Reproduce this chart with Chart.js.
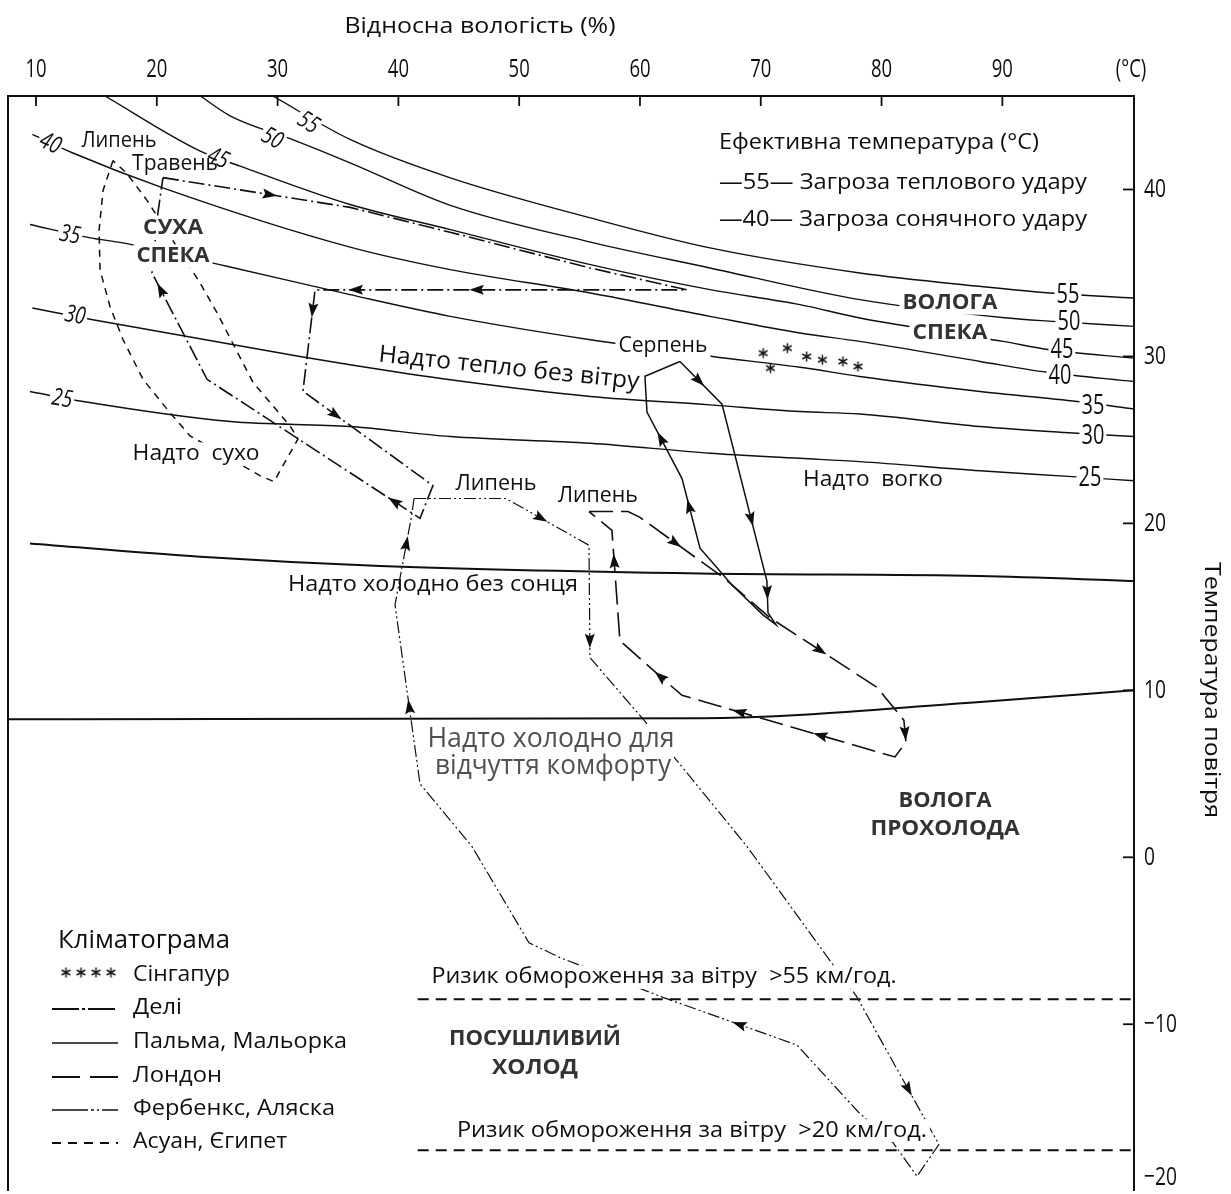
<!DOCTYPE html>
<html lang="uk">
<head>
<meta charset="utf-8">
<title>Біокліматична діаграма</title>
<script src="https://cdn.jsdelivr.net/npm/chart.js@4.4.1/dist/chart.umd.min.js"></script>
<style>
  html, body { margin: 0; padding: 0; background: #fff; overflow: hidden; }
  #wrap { width: 1231px; height: 1194px; position: relative; background: #fff; }
</style>
</head>
<body>
<div id="wrap"><canvas id="c" width="1231" height="1194"></canvas></div>
<script>
// ---- axis ticks ----
const humidityTicks = [10, 20, 30, 40, 50, 60, 70, 80, 90];
const temperatureTicks = [40, 30, 20, 10, 0, -10, -20];

// ---- effective temperature curves: relative humidity (%) / air temperature (°C) ----
const et55Hum  = [29.6, 36.0, 44.3, 55.9, 65.8, 78.2, 88.1, 93.9, 100.9];
const et55Temp = [45.6, 43.0, 40.7, 38.3, 36.5, 35.0, 34.2, 33.8, 33.5];
const et50Hum  = [23.6, 26.1, 31.2, 36.0, 44.3, 55.9, 65.8, 78.2, 90.4, 94.2, 100.9];
const et50Temp = [45.6, 44.4, 43.0, 41.6, 39.05, 36.85, 35.3, 33.4, 32.3, 32.1, 31.8];
const et45Hum  = [15.7, 23.6, 26.9, 36.0, 44.3, 55.9, 65.8, 73.25, 78.2, 90.05, 93.9, 100.9];
const et45Temp = [45.6, 42.3, 41.4, 39.1, 37.6, 35.5, 34.0, 33.1, 32.3, 30.9, 30.4, 29.9];
const et40Hum  = [9.7, 13.0, 20.5, 36.0, 44.3, 55.9, 65.8, 73.25, 78.2, 88.15, 93.7, 100.9];
const et40Temp = [43.3, 42.2, 40.1, 36.55, 35.2, 33.8, 32.4, 31.4, 30.9, 29.7, 29.05, 28.5];
const et35Hum  = [9.5, 14.5, 17.2, 25.8, 36.0, 44.3, 55.9, 66.0, 73.25, 78.2, 88.15, 96.2, 100.9];
const et35Temp = [37.9, 37.1, 36.8, 35.4, 33.7, 32.4, 31.0, 30.0, 29.35, 28.8, 27.9, 27.3, 26.85];
const et30Hum  = [9.7, 14.7, 31.85, 36.0, 44.3, 55.9, 65.8, 73.25, 78.2, 88.15, 96.2, 100.9];
const et30Temp = [32.9, 32.2, 30.0, 29.5, 28.6, 27.6, 27.1, 26.7, 26.55, 25.8, 25.4, 25.2];
const et25Hum  = [9.5, 13.9, 26.1, 36.0, 44.3, 55.9, 65.8, 73.25, 78.2, 88.15, 95.8, 100.9];
const et25Temp = [27.9, 27.3, 26.1, 25.8, 25.2, 24.8, 24.2, 23.9, 23.7, 23.15, 22.8, 22.55];

// ---- comfort boundaries ----
const sunLimitHum      = [9.5, 23.6, 38.5, 65.0, 88.15, 100.9];
const sunLimitTemp     = [18.8, 18.0, 17.45, 17.0, 16.85, 16.55];
const comfortLimitHum  = [7.68, 65.0, 88.15, 100.9];
const comfortLimitTemp = [8.27, 8.33, 9.3, 10.0];
const frostHum         = [41.6, 100.9];
const frost55Temp      = [-8.5, -8.5];
const frost20Temp      = [-17.55, -17.55];

// ---- climatograms (monthly path, closed loops) ----
const singaporeHum  = [70.2, 72.2, 70.8, 73.8, 75.1, 76.8, 78.05];
const singaporeTemp = [30.2, 30.5, 29.3, 30.0, 29.8, 29.7, 29.4];

const delhiHum  = [20.51, 36.0, 44.27, 55.86, 63.89, 33.1, 32.1, 42.86, 41.79, 24.16, 19.6, 20.1, 20.51];
const delhiTemp = [40.71, 38.93, 37.44, 35.3, 33.99, 33.99, 27.92, 22.26, 20.3, 28.63, 35.0, 38.65, 40.71];

const palmaHum  = [63.31, 66.79, 70.51, 70.6, 71.26, 70.18, 67.62, 64.97, 63.48, 60.58, 60.41, 63.31];
const palmaTemp = [29.7, 27.14, 16.55, 14.64, 13.93, 14.52, 16.31, 18.51, 22.68, 26.67, 28.81, 29.7];

const londonHum  = [55.78, 59.01, 60.0, 66.95, 70.76, 79.62, 81.85, 82.02, 81.11, 63.48, 61.49, 58.34, 57.68, 55.78];
const londonTemp = [20.71, 20.71, 20.36, 16.73, 14.35, 10.18, 8.21, 6.9, 6.01, 9.7, 10.95, 12.98, 19.58, 20.71];

const fairbanksHum  = [41.29, 48.91, 55.78, 55.86, 60.33, 68.86, 75.73, 77.88, 84.75, 82.93, 80.94, 78.05, 73.0,
                       61.9, 53.38, 50.81, 46.09, 41.79, 39.72, 41.13, 41.29];
const fairbanksTemp = [21.49, 21.49, 18.69, 11.96, 8.21, 0.65, -6.19, -8.27, -17.2, -19.11, -17.08, -15.24, -11.25,
                       -8.39, -6.01, -5.12, 0.65, 4.4, 15.12, 20.6, 21.49];

const aswanHum  = [16.37, 15.55, 15.22, 15.3, 16.13, 17.2, 18.86, 20.84, 22.75, 28.54, 29.7, 31.69, 31.03, 27.96,
                   24.98, 23.58, 19.19, 17.53, 16.37];
const aswanTemp = [41.73, 39.94, 37.56, 35.18, 32.98, 31.01, 28.63, 26.85, 25.24, 22.86, 22.5, 25.06, 25.83, 28.45,
                   32.62, 34.4, 39.35, 40.95, 41.73];

// direction arrows: [segment index, position along the segment]
const arrowMarks = {
  'Делі':            [[0, 0.57], [4, 0.565], [4, 0.89], [5, 0.2], [6, 0.25], [8, 0.12], [9, 0.84]],
  'Пальма, Мальорка': [[0, 0.45], [1, 0.65], [2, 0.35], [7, 0.6], [8, 0.6]],
  'Лондон':          [[2, 0.42], [4, 0.47], [6, 0.6], [8, 0.35], [8, 0.73], [9, 0.9], [11, 0.72]],
  'Фербенкс, Аляска': [[1, 0.42], [2, 0.85], [7, 0.63], [12, 0.43], [17, 0.43], [18, 0.67]]
};

const FONT = "'Open Sans', 'Noto Sans', 'DejaVu Sans', sans-serif";
const INK = '#0f0f0f';

function series(label, hum, temp, style) {
  return Object.assign({
    label,
    data: hum.map((h, i) => ({ x: h, y: temp[i] })),
    showLine: true,
    pointRadius: 0,
    pointHoverRadius: 0,
    borderColor: INK,
    backgroundColor: INK,
    borderWidth: 1.5,
    fill: false
  }, style);
}

// small asterisk used for the Singapore months
const asterisk = document.createElement('canvas');
asterisk.width = 13; asterisk.height = 13;
(function () {
  const g = asterisk.getContext('2d');
  g.strokeStyle = '#1a1a1a'; g.lineWidth = 1.5; g.beginPath();
  for (let k = 0; k < 3; k++) {
    const a = Math.PI / 2 + k * Math.PI / 3;
    g.moveTo(6.5 + 5 * Math.cos(a), 6.5 + 5 * Math.sin(a));
    g.lineTo(6.5 - 5 * Math.cos(a), 6.5 - 5 * Math.sin(a));
  }
  g.stroke();
})();

const smooth = { cubicInterpolationMode: 'monotone', borderWidth: 1.4 };

const datasets = [
  series('ET55', et55Hum, et55Temp, smooth),
  series('ET50', et50Hum, et50Temp, smooth),
  series('ET45', et45Hum, et45Temp, smooth),
  series('ET40', et40Hum, et40Temp, smooth),
  series('ET35', et35Hum, et35Temp, smooth),
  series('ET30', et30Hum, et30Temp, smooth),
  series('ET25', et25Hum, et25Temp, smooth),
  series('sun', sunLimitHum, sunLimitTemp, { cubicInterpolationMode: 'monotone', borderWidth: 2 }),
  series('comfort', comfortLimitHum, comfortLimitTemp, { cubicInterpolationMode: 'monotone', borderWidth: 2 }),
  series('frost55', frostHum, frost55Temp, { borderWidth: 2, borderDash: [11, 7] }),
  series('frost20', frostHum, frost20Temp, { borderWidth: 2, borderDash: [11, 7] }),
  series('Делі', delhiHum, delhiTemp, { borderWidth: 1.6, borderDash: [16, 4, 2, 4] }),
  series('Пальма, Мальорка', palmaHum, palmaTemp, { borderWidth: 1.5 }),
  series('Лондон', londonHum, londonTemp, { borderWidth: 1.6, borderDash: [24, 8] }),
  series('Фербенкс, Аляска', fairbanksHum, fairbanksTemp, { borderWidth: 1.2, borderDash: [12, 3, 2, 3, 2, 3] }),
  series('Асуан, Єгипет', aswanHum, aswanTemp, { borderWidth: 1.5, borderDash: [7, 6] }),
  {
    label: 'Сінгапур',
    data: singaporeHum.map((h, i) => ({ x: h, y: singaporeTemp[i] })),
    showLine: false, pointStyle: asterisk, pointRadius: 6, pointHoverRadius: 6
  }
];

// curve value labels (humidity / temperature position)
const curveLabels = [
  { t: '40', h: 11.16, T: 42.74, rot: 25, italic: true },
  { t: '45', h: 25.07, T: 41.85, rot: 24, italic: true },
  { t: '50', h: 29.54, T: 43.04, rot: 28, italic: true },
  { t: '55', h: 32.52, T: 43.99, rot: 32, italic: true },
  { t: '35', h: 12.81, T: 37.26, rot: 10, italic: true },
  { t: '30', h: 13.23, T: 32.44, rot: 10, italic: true },
  { t: '25', h: 12.15, T: 27.44, rot: 9, italic: true },
  { t: '55', h: 95.43, T: 33.69 },
  { t: '50', h: 95.51, T: 32.02 },
  { t: '45', h: 94.93, T: 30.36 },
  { t: '40', h: 94.77, T: 28.81 },
  { t: '35', h: 97.5,  T: 27.02 },
  { t: '30', h: 97.5,  T: 25.24 },
  { t: '25', h: 97.25, T: 22.68 }
];

const BOLD = { weight: 700, color: '#333', size: 22 };
const notes = [
  Object.assign({ t: 'СУХА', h: 21.34, T: 37.68, w: 60, knock: true }, BOLD),
  Object.assign({ t: 'СПЕКА', h: 21.34, T: 36.01, w: 73, knock: true }, BOLD),
  Object.assign({ t: 'ВОЛОГА', h: 85.66, T: 33.21, w: 95, knock: true }, BOLD),
  Object.assign({ t: 'СПЕКА', h: 85.66, T: 31.43, w: 75, knock: true }, BOLD),
  Object.assign({ t: 'ВОЛОГА', h: 85.25, T: 3.39, w: 93 }, BOLD),
  Object.assign({ t: 'ПРОХОЛОДА', h: 85.25, T: 1.73, w: 149 }, BOLD),
  Object.assign({ t: 'ПОСУШЛИВИЙ', h: 51.31, T: -10.89, w: 172 }, BOLD),
  Object.assign({ t: 'ХОЛОД', h: 51.31, T: -12.62, w: 86 }, BOLD),
  { t: 'Надто тепло без вітру', h: 49.16, T: 29.29, w: 262, rot: 6, size: 24 },
  { t: 'Серпень', h: 61.9, T: 30.6, w: 89, knock: true },
  { t: 'Надто  сухо', h: 23.25, T: 24.17, w: 127, knock: true },
  { t: 'Надто  вогко', h: 79.29, T: 22.62, w: 140 },
  { t: 'Надто холодно без сонця', h: 42.86, T: 16.31, w: 290 },
  { t: 'Липень', h: 48.08, T: 22.38, w: 81 },
  { t: 'Липень', h: 56.52, T: 21.61, w: 80 },
  { t: 'Липень', h: 16.87, T: 42.92, w: 75 },
  { t: 'Травень', h: 21.51, T: 41.55, w: 86 },
  { t: 'Надто холодно для', h: 52.63, T: 7.08, w: 247, size: 27, color: '#505050', knock: true },
  { t: 'відчуття комфорту', h: 52.8, T: 5.42, w: 236, size: 27, color: '#505050', knock: true },
  { t: 'Ризик обмороження за вітру  >55 км/год.', h: 61.99, T: -7.2, w: 465, knock: true },
  { t: 'Ризик обмороження за вітру  >20 км/год.', h: 64.3, T: -16.37, w: 470, knock: true }
];

function txt(ctx, s, x, y, o = {}) {
  const size = o.size || 21;
  ctx.save();
  ctx.font = `${o.italic ? 'italic ' : ''}${o.weight || 400} ${size}px ${o.family || FONT}`;
  const w = ctx.measureText(s).width;
  const sx = o.w ? o.w / w : (o.sx || 1);
  ctx.translate(x, y);
  if (o.rot) ctx.rotate(o.rot * Math.PI / 180);
  ctx.scale(sx, 1);
  const x0 = o.align === 'left' ? 0 : (o.align === 'right' ? -w : -w / 2);
  if (o.knock) {
    const p = o.pad == null ? 3 : o.pad;
    ctx.fillStyle = '#fff';
    ctx.fillRect(x0 - p / sx, -size * 0.4 - p, w + 2 * p / sx, size * 0.8 + 2 * p);
  }
  ctx.fillStyle = o.color || INK;
  ctx.textAlign = 'left';
  ctx.textBaseline = 'middle';
  ctx.fillText(s, x0, 0);
  ctx.restore();
}

function arrowHead(ctx, x, y, ang) {
  ctx.save();
  ctx.translate(x, y);
  ctx.rotate(ang);
  ctx.beginPath();
  ctx.moveTo(7.5, 0);
  ctx.lineTo(-7, 5);
  ctx.lineTo(-4.5, 0);
  ctx.lineTo(-7, -5);
  ctx.closePath();
  ctx.fillStyle = INK;
  ctx.fill();
  ctx.restore();
}

function sample(ctx, y, dash, width) {
  ctx.save();
  ctx.strokeStyle = INK;
  ctx.lineWidth = width;
  ctx.setLineDash(dash);
  ctx.beginPath();
  ctx.moveTo(52, y);
  ctx.lineTo(118, y);
  ctx.stroke();
  ctx.restore();
}

const decor = {
  id: 'decor',
  afterDatasetsDraw(chart) {
    const ctx = chart.ctx;
    const a = chart.chartArea;
    const xs = chart.scales.x, ys = chart.scales.y;
    const X = v => xs.getPixelForValue(v);
    const Y = v => ys.getPixelForValue(v);

    // curve numbers sit in gaps of their curves
    curveLabels.forEach(l => txt(ctx, l.t, X(l.h), Y(l.T), {
      size: l.italic ? 24 : 27, sx: l.italic ? 0.78 : 0.74, italic: l.italic, rot: l.rot, knock: true, pad: 2
    }));

    // region and month annotations
    notes.forEach(n => txt(ctx, n.t, X(n.h), Y(n.T), n));

    // direction arrows along the climatogram paths
    chart.data.datasets.forEach(ds => {
      const marks = arrowMarks[ds.label];
      if (!marks) return;
      marks.forEach(([seg, t]) => {
        const p = ds.data[seg], q = ds.data[seg + 1];
        const px = X(p.x), py = Y(p.y), qx = X(q.x), qy = Y(q.y);
        arrowHead(ctx, px + (qx - px) * t, py + (qy - py) * t, Math.atan2(qy - py, qx - px));
      });
    });

    // frame (left, top, right)
    ctx.save();
    ctx.strokeStyle = INK;
    ctx.lineWidth = 2;
    ctx.beginPath();
    ctx.moveTo(a.left, a.bottom + 4);
    ctx.lineTo(a.left, a.top);
    ctx.lineTo(a.right, a.top);
    ctx.lineTo(a.right, a.bottom + 4);
    ctx.stroke();

    // humidity ticks on the top edge
    ctx.lineWidth = 1.8;
    humidityTicks.forEach(v => {
      const x = X(v);
      ctx.beginPath(); ctx.moveTo(x, a.top); ctx.lineTo(x, a.top + 10); ctx.stroke();
      txt(ctx, String(v), x, 70, { size: 25, sx: 0.74 });
    });
    txt(ctx, '(°C)', a.right - 3, 70, { size: 25, sx: 0.74 });

    // temperature ticks on the right edge
    temperatureTicks.forEach(v => {
      const y = Y(v);
      if (y <= a.bottom) {
        ctx.beginPath(); ctx.moveTo(a.right - 11, y); ctx.lineTo(a.right, y); ctx.stroke();
      }
      const label = v < 0 ? '\u2212' + Math.abs(v) : String(v);
      txt(ctx, label, a.right + 10, Math.min(y, a.bottom - 9), { size: 26, sx: 0.74, align: 'left' });
    });
    ctx.restore();

    // axis titles
    txt(ctx, 'Відносна вологість (%)', 480, 27, { size: 22, w: 271 });
    txt(ctx, 'Температура повітря', 1211, 690, { size: 22, w: 256, rot: 90 });

    // effective temperature key
    txt(ctx, 'Ефективна температура (°C)', 719, 143, { size: 22, w: 320, align: 'left' });
    txt(ctx, '\u201455\u2014 Загроза теплового удару', 719, 183, { size: 22, w: 368, align: 'left' });
    txt(ctx, '\u201440\u2014 Загроза сонячного удару', 719, 220, { size: 22, w: 368, align: 'left' });

    // climatogram key
    txt(ctx, 'Кліматограма', 58, 941, { size: 25, w: 172, align: 'left' });
    [66, 81, 96, 111].forEach(x => ctx.drawImage(asterisk, x - 6.5, 966));
    txt(ctx, 'Сінгапур', 133, 975, { size: 22, w: 97, align: 'left' });
    sample(ctx, 1009, [27, 3, 3, 3], 2);
    txt(ctx, 'Делі', 133, 1008, { size: 22, w: 49, align: 'left' });
    sample(ctx, 1043, [], 1.3);
    txt(ctx, 'Пальма, Мальорка', 133, 1042, { size: 22, w: 214, align: 'left' });
    sample(ctx, 1077, [28, 10], 2);
    txt(ctx, 'Лондон', 133, 1076, { size: 22, w: 89, align: 'left' });
    sample(ctx, 1110, [36, 3, 3, 3, 2, 3, 20], 1.3);
    txt(ctx, 'Фербенкс, Аляска', 133, 1109, { size: 22, w: 202, align: 'left' });
    sample(ctx, 1143, [9, 7], 2);
    txt(ctx, 'Асуан, Єгипет', 133, 1142, { size: 22, w: 154, align: 'left' });
  }
};

new Chart(document.getElementById('c'), {
  type: 'scatter',
  data: { datasets },
  options: {
    responsive: false,
    animation: false,
    devicePixelRatio: 1,
    events: [],
    layout: { padding: { left: 8, right: 0, top: 0, bottom: 0 } },
    plugins: { legend: { display: false }, tooltip: { enabled: false } },
    scales: {
      x: {
        type: 'linear', position: 'top', min: 7.68, max: 100.9,
        grid: { display: false }, border: { display: false }, ticks: { display: false },
        afterFit: s => { s.height = 96; }
      },
      y: {
        type: 'linear', position: 'right', min: -19.75, max: 45.6,
        grid: { display: false }, border: { display: false }, ticks: { display: false },
        afterFit: s => { s.width = 97; }
      }
    }
  },
  plugins: [decor]
});
</script>
</body>
</html>
